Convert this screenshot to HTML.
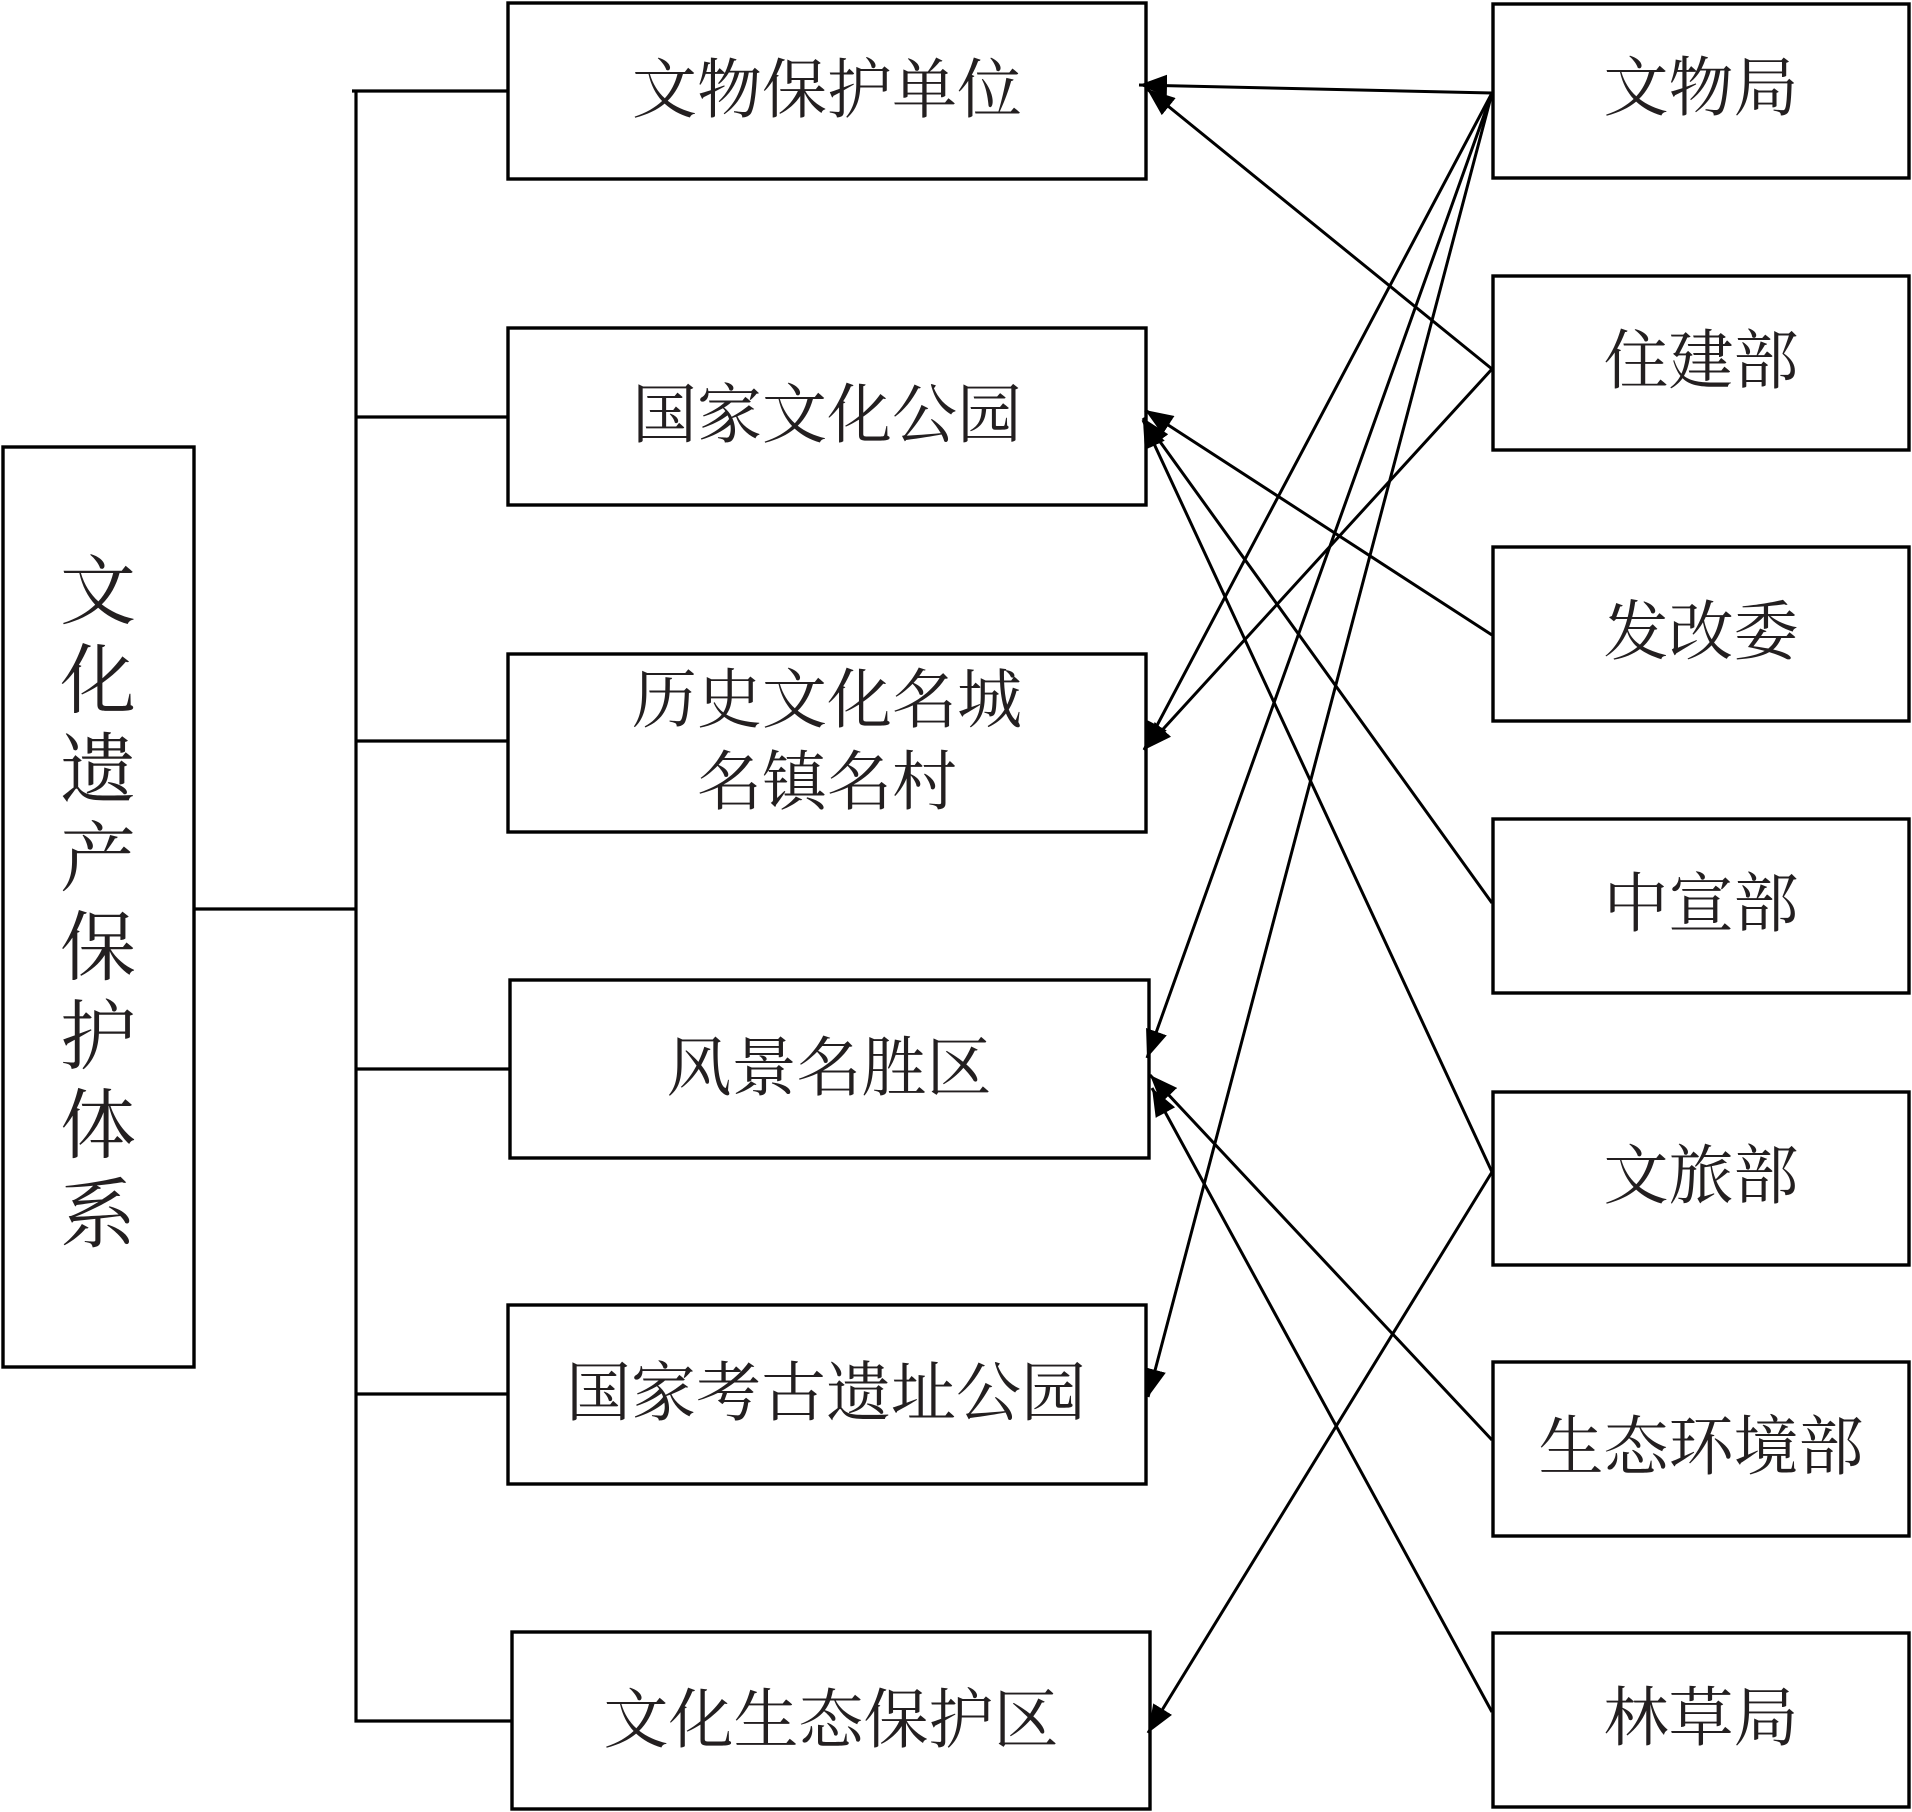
<!DOCTYPE html>
<html>
<head>
<meta charset="utf-8">
<style>
  html, body { margin: 0; padding: 0; background: #ffffff; }
  svg { display: block; }
  text { font-family: "Liberation Serif", "Noto Serif CJK SC", "Noto Sans CJK SC", serif; fill: #231f20; }
</style>
</head>
<body>
<svg width="1912" height="1812" viewBox="0 0 1912 1812" xmlns="http://www.w3.org/2000/svg">
  <defs>
    <marker id="ah" viewBox="0 0 28 22" refX="28" refY="11" markerWidth="28" markerHeight="22" markerUnits="userSpaceOnUse" orient="auto">
      <path d="M0,0 L28,11 L0,22 z" fill="#000"/>
    </marker>
  </defs>
  <rect x="0" y="0" width="1912" height="1812" fill="#fff"/>

  <!-- Left root box -->
  <rect x="3" y="447" width="191" height="920" fill="none" stroke="#000" stroke-width="3.4"/>
  <g font-size="76" text-anchor="middle" dominant-baseline="central">
    <text x="98" y="593">文</text>
    <text x="98" y="682">化</text>
    <text x="98" y="771">遗</text>
    <text x="98" y="860">产</text>
    <text x="98" y="949">保</text>
    <text x="98" y="1038">护</text>
    <text x="98" y="1127">体</text>
    <text x="98" y="1216">系</text>
  </g>

  <!-- Tree connectors -->
  <g stroke="#000" stroke-width="3.2" fill="none">
    <line x1="194" y1="909" x2="356" y2="909"/>
    <line x1="356" y1="89.5" x2="356" y2="1722.5"/>
    <line x1="352" y1="91" x2="508" y2="91"/>
    <line x1="356" y1="417" x2="508" y2="417"/>
    <line x1="356" y1="741" x2="508" y2="741"/>
    <line x1="356" y1="1069" x2="510" y2="1069"/>
    <line x1="356" y1="1394" x2="508" y2="1394"/>
    <line x1="354.5" y1="1721" x2="512" y2="1721"/>
  </g>

  <!-- Middle boxes -->
  <g fill="none" stroke="#000" stroke-width="3.4">
    <rect x="508" y="3" width="638" height="176"/>
    <rect x="508" y="328" width="638" height="177"/>
    <rect x="508" y="654" width="638" height="178"/>
    <rect x="510" y="980" width="639" height="178"/>
    <rect x="508" y="1305" width="638" height="179"/>
    <rect x="512" y="1632" width="638" height="177"/>
  </g>
  <g font-size="65" text-anchor="middle" dominant-baseline="central">
    <text x="827" y="91">文物保护单位</text>
    <text x="827" y="416">国家文化公园</text>
    <text x="827" y="701">历史文化名城</text>
    <text x="827" y="783">名镇名村</text>
    <text x="829" y="1069">风景名胜区</text>
    <text x="826" y="1394">国家考古遗址公园</text>
    <text x="831" y="1721">文化生态保护区</text>
  </g>

  <!-- Right boxes -->
  <g fill="none" stroke="#000" stroke-width="3.4">
    <rect x="1493" y="4" width="416" height="174"/>
    <rect x="1493" y="276" width="416" height="174"/>
    <rect x="1493" y="547" width="416" height="174"/>
    <rect x="1493" y="819" width="416" height="174"/>
    <rect x="1493" y="1092" width="416" height="173"/>
    <rect x="1493" y="1362" width="416" height="174"/>
    <rect x="1493" y="1633" width="416" height="174"/>
  </g>
  <g font-size="65" text-anchor="middle" dominant-baseline="central">
    <text x="1701" y="89">文物局</text>
    <text x="1701" y="362">住建部</text>
    <text x="1701" y="633">发改委</text>
    <text x="1701" y="905">中宣部</text>
    <text x="1701" y="1177">文旅部</text>
    <text x="1701" y="1448">生态环境部</text>
    <text x="1701" y="1719">林草局</text>
  </g>

  <!-- Arrows -->
  <g stroke="#000" stroke-width="3" fill="none" marker-end="url(#ah)">
    <line x1="1492" y1="93" x2="1139" y2="85"/>
    <line x1="1492" y1="93" x2="1144" y2="750"/>
    <line x1="1492" y1="93" x2="1147" y2="1058"/>
    <line x1="1492" y1="93" x2="1148" y2="1397"/>
    <line x1="1492" y1="369" x2="1147" y2="89"/>
    <line x1="1492" y1="369" x2="1144" y2="750"/>
    <line x1="1492" y1="635" x2="1145" y2="410"/>
    <line x1="1492" y1="903" x2="1143" y2="418"/>
    <line x1="1492" y1="1172" x2="1143" y2="420"/>
    <line x1="1492" y1="1172" x2="1148" y2="1733"/>
    <line x1="1492" y1="1440" x2="1150" y2="1075"/>
    <line x1="1492" y1="1712" x2="1152" y2="1088"/>
  </g>
</svg>
</body>
</html>
